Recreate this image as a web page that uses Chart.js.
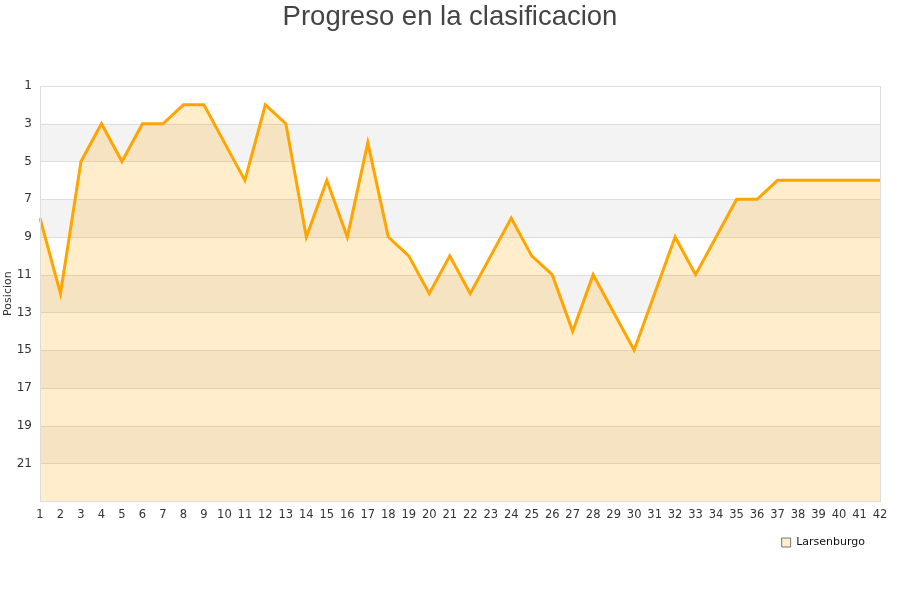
<!DOCTYPE html>
<html><head><meta charset="utf-8">
<script src="https://cdn.jsdelivr.net/npm/chart.js@4/dist/chart.umd.min.js"></script>
<style>html,body{margin:0;padding:0;background:#fff;}</style>
</head><body>
<canvas id="c" width="900" height="600" style="width:900px;height:600px;"></canvas>
<script>
const jornadas = ['1','2','3','4','5','6','7','8','9','10','11','12','13','14','15','16','17','18','19','20','21','22','23','24','25','26','27','28','29','30','31','32','33','34','35','36','37','38','39','40','41','42'];
const posiciones = [8,12,5,3,5,3,3,2,2,4,6,2,3,9,6,9,4,9,10,12,10,12,10,8,10,11,14,11,13,15,12,9,11,9,7,7,6,6,6,6,6,6];
const equipo = 'Larsenburgo';
const titulo = 'Progreso en la clasificacion';
const ejeY = 'Posicion';
const bandas = [[3,5],[7,9],[11,13],[15,17],[19,21]];

const bandPlugin = {
  id: 'bands',
  beforeDatasetsDraw(chart) {
    const {ctx, chartArea, scales} = chart;
    const y = scales.y;
    ctx.save();
    ctx.fillStyle = '#f3f3f3';
    bandas.forEach(([a,b]) => {
      const p1 = y.getPixelForValue(a), p2 = y.getPixelForValue(b);
      ctx.fillRect(chartArea.left, Math.min(p1,p2), chartArea.right-chartArea.left, Math.abs(p2-p1));
    });
    ctx.strokeStyle = '#dddddd';
    ctx.lineWidth = 1;
    y.ticks.forEach(t => {
      const p = Math.round(y.getPixelForValue(t.value)) + 0.5;
      ctx.beginPath(); ctx.moveTo(chartArea.left, p); ctx.lineTo(chartArea.right, p); ctx.stroke();
    });
    ctx.restore();
  }
};

const legendShift = {
  id: 'legendShift',
  beforeDraw(chart) {
    if (chart.legend) { chart.legend.left -= 27; chart.legend.right -= 27; }
  }
};

new Chart(document.getElementById('c'), {
  type: 'line',
  data: {
    labels: jornadas,
    datasets: [{
      label: equipo,
      data: posiciones,
      borderColor: '#ffa500',
      backgroundColor: 'rgba(255,165,0,0.2)',
      borderWidth: 3,
      pointRadius: 0,
      tension: 0,
      fill: 'start'
    }]
  },
  options: {
    responsive: false,
    animation: false,
    layout: { padding: { left: 0, right: 0, top: 1, bottom: 42 } },
    plugins: {
      title: {
        display: true, text: titulo,
        color: '#444', font: { family: 'Liberation Sans', size: 27.5, weight: 'normal' },
        padding: { top: 0, bottom: 52 }
      },
      legend: {
        position: 'bottom', align: 'end',
        labels: {
          boxWidth: 9, boxHeight: 9, color: '#111',
          font: { family: 'DejaVu Sans', size: 11 },
          padding: 8,
          generateLabels(chart) {
            return [{ text: equipo, fillStyle: '#ffedcc', strokeStyle: '#777', lineWidth: 1, datasetIndex: 0, hidden: false, fontColor: '#111' }];
          }
        }
      },
      tooltip: { enabled: false }
    },
    scales: {
      x: {
        offset: false,
        grid: { display: false, drawTicks: false, tickLength: 0 },
        border: { display: true, color: '#ddd' },
        ticks: { color: '#333', font: { family: 'DejaVu Sans', size: 11.5 }, maxRotation: 0, autoSkip: false, padding: 7 }
      },
      y: {
        reverse: true, min: 1, max: 23,
        grid: { display: false, drawTicks: false, tickLength: 0 },
        border: { display: true, color: '#ddd' },
        title: { display: true, text: ejeY, color: '#333', font: { family: 'DejaVu Sans', size: 11 }, padding: 2 },
        ticks: {
          stepSize: 2, color: '#333', font: { family: 'DejaVu Sans', size: 12 }, padding: 8,
          callback: v => v === 23 ? '' : v
        },
        afterFit(s) { s.width = 40; }
      },
      yr: {
        position: 'right', display: true,
        grid: { display: false, drawTicks: false },
        border: { display: false },
        ticks: { display: false },
        afterFit(s) { s.width = 20; }
      }
    }
  },
  plugins: [bandPlugin, legendShift, {
    id: 'frame',
    afterDraw(chart) {
      const {ctx, chartArea: a} = chart;
      ctx.save(); ctx.strokeStyle = '#ddd'; ctx.lineWidth = 1;
      ctx.strokeRect(Math.round(a.left)+0.5, Math.round(a.top)+0.5, Math.round(a.right-a.left), Math.round(a.bottom-a.top));
      ctx.restore();
    }
  }]
});
</script>
</body></html>
